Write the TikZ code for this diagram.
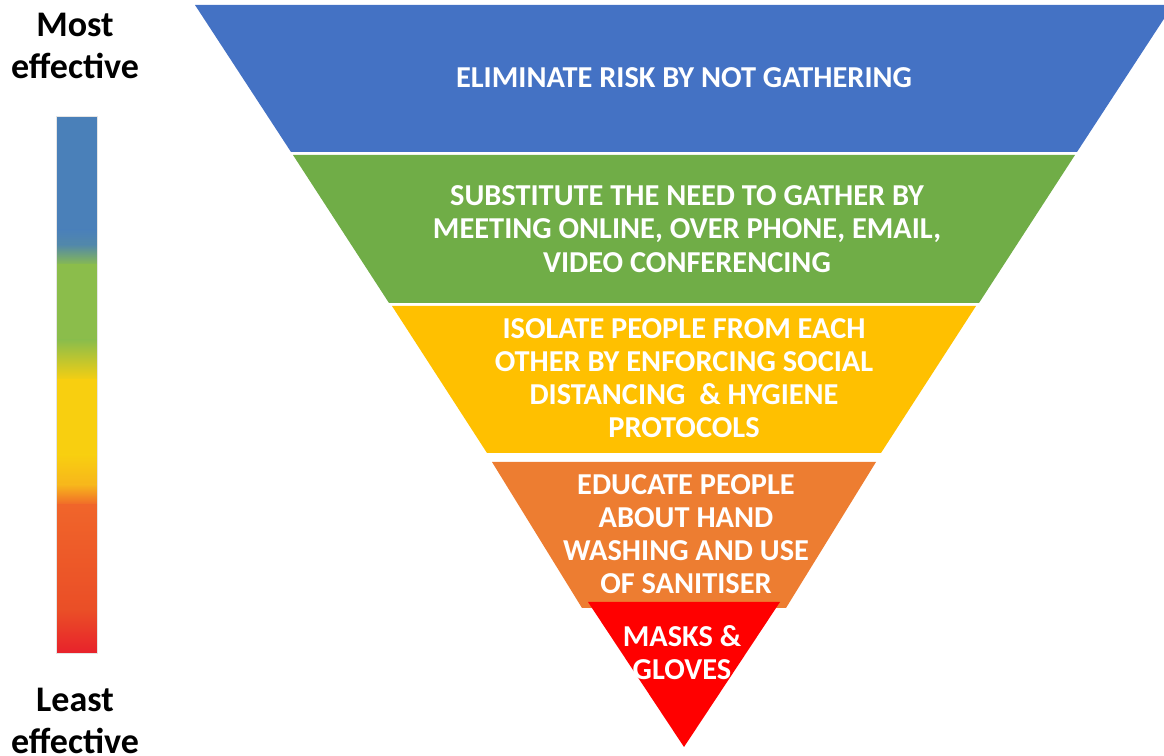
\documentclass[tikz,border=0pt]{standalone}
\usepackage{fontspec}
\setmainfont{Carlito}
\definecolor{cblue}{HTML}{4472C4}
\definecolor{cgreen}{HTML}{70AD47}
\definecolor{cyellow}{HTML}{FFC000}
\definecolor{corange}{HTML}{ED7D31}
\definecolor{cred}{HTML}{FF0000}
\definecolor{bblue}{HTML}{4A80B9}
\definecolor{bblue2}{HTML}{5389A8}
\definecolor{bgreen}{HTML}{8BBD4B}
\definecolor{byellow}{HTML}{F8CF10}
\definecolor{byellow2}{HTML}{F7B51C}
\definecolor{borange}{HTML}{F0652A}
\definecolor{borange2}{HTML}{EA4E27}
\definecolor{bred}{HTML}{E8222B}
\tikzset{
  layertext/.style={text=white, align=center, font=\bfseries\fontsize{17.3}{18.9}\selectfont, inner sep=0pt},
  sidetext/.style={text=black, align=center, font=\bfseries\fontsize{20.5}{24.4}\selectfont, inner sep=0pt}
}
\begin{document}
\begin{tikzpicture}[x=0.02cm, y=-0.02cm]
\useasboundingbox (0,0) rectangle (1164,756);
\begin{scope}
\clip (0,0) rectangle (1164,756);
% layers
\fill[cblue] (195,5) -- (1173,5) -- (1077,152) -- (291,152) -- cycle;
\fill[cgreen] (293,155) -- (1075,155) -- (979,303) -- (389,303) -- cycle;
\fill[cyellow] (392,306) -- (976,306) -- (881,453) -- (487,453) -- cycle;
\fill[corange] (492,462) -- (876,462) -- (786,608) -- (582,608) -- cycle;
\fill[cred] (588,602) -- (780,602) -- (684,747) -- cycle;
% effectiveness bar
\shade[top color=bblue, bottom color=bblue] (57,117) rectangle (97,231);
\shade[top color=bblue, bottom color=bblue2] (57,230) rectangle (97,246);
\shade[top color=bblue2, bottom color=bgreen] (57,245) rectangle (97,266);
\shade[top color=bgreen, bottom color=bgreen] (57,265) rectangle (97,341);
\shade[top color=bgreen, bottom color=byellow] (57,340) rectangle (97,381);
\shade[top color=byellow, bottom color=byellow] (57,380) rectangle (97,456);
\shade[top color=byellow, bottom color=byellow2] (57,455) rectangle (97,486);
\shade[top color=byellow2, bottom color=borange] (57,485) rectangle (97,506);
\shade[top color=borange, bottom color=borange2] (57,505) rectangle (97,611);
\shade[top color=borange2, bottom color=bred] (57,610) rectangle (97,653);
\draw[black!10, line width=0.6pt] (56.5,116.5) rectangle (97.5,653.5);
\end{scope}
% texts
\node[layertext] (t1) at (684,78) {ELIMINATE RISK BY NOT GATHERING};
\node[layertext] (t2) at (687,229) {SUBSTITUTE THE NEED TO GATHER BY\\MEETING ONLINE, OVER PHONE, EMAIL,\\VIDEO CONFERENCING};
\node[layertext] (t3) at (684,378) {ISOLATE PEOPLE FROM EACH\\OTHER BY ENFORCING SOCIAL\\DISTANCING\ \ \& HYGIENE\\PROTOCOLS};
\node[layertext] (t4) at (686,534) {EDUCATE PEOPLE\\ABOUT HAND\\WASHING AND USE\\OF SANITISER};
\node[layertext] (t5) at (682,653) {MASKS \&\\GLOVES};
\node[sidetext] (most) at (75,46) {Most\\effective};
\node[sidetext] (least) at (75,721) {Least\\effective};
\end{tikzpicture}
\end{document}
